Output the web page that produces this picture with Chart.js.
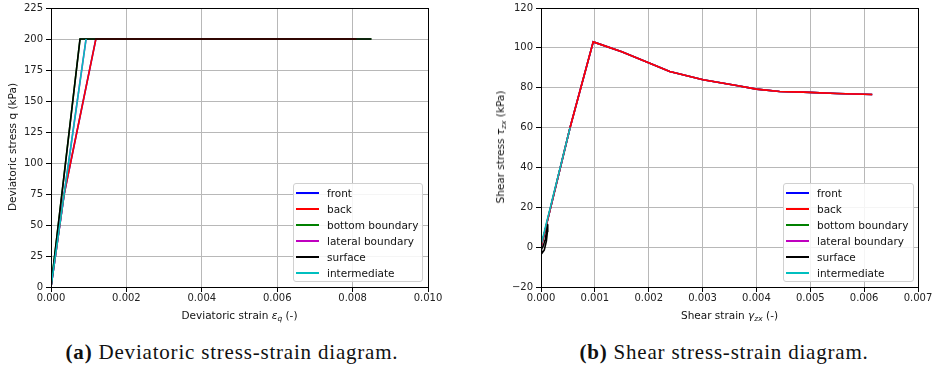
<!DOCTYPE html>
<html>
<head>
<meta charset="utf-8">
<script src="https://cdn.jsdelivr.net/npm/chart.js@4.4.1/dist/chart.umd.min.js"></script>
<style>
  html, body { margin: 0; padding: 0; background: #fff; }
  #fig { position: relative; width: 942px; height: 371px; font-family: 'DejaVu Sans', sans-serif; color: #111; }
  .panel { position: absolute; top: 0; height: 330px; }
  .axtitle { position: absolute; font-size: 10.5px; white-space: nowrap; transform: translate(-50%, -50%); }
  .axtitle.rot { transform: translate(-50%, -50%) rotate(-90deg); }
  .axtitle sub { font-size: 7.5px; vertical-align: -2px; line-height: 0; }
  .legend { position: absolute; background: rgba(255,255,255,0.85); border: 1px solid #d0d0d0; border-radius: 3px;
            box-sizing: border-box; padding-top: 1px; font-size: 10.5px; }
  .legend .row { height: 16px; line-height: 16px; position: relative; white-space: nowrap; }
  .legend .swatch { position: absolute; left: 2px; top: 7px; width: 23px; height: 2px; }
  .legend .txt { position: absolute; left: 33px; top: 0; }
  .caption { position: absolute; top: 340px; font-family: 'Liberation Serif', 'DejaVu Serif', serif; font-size: 21px;
             letter-spacing: 0.8px; white-space: nowrap; transform: translateX(-50%); color: #111; }
</style>
</head>
<body>
<div id="fig">
  <div class="panel" style="left:0;width:470px"><canvas id="chartDev"></canvas></div>
  <div class="panel" style="left:470px;width:472px"><canvas id="chartShear"></canvas></div>

  <div class="axtitle rot" style="left:12px;top:146.5px">Deviatoric stress q (kPa)</div>
  <div class="axtitle" style="left:239.5px;top:315px">Deviatoric strain <i>ε</i><sub><i>q</i></sub> (-)</div>
  <div class="axtitle rot" style="left:500px;top:146.5px">Shear stress <i>τ</i><sub><i>zx</i></sub> (kPa)</div>
  <div class="axtitle" style="left:729.5px;top:315px">Shear strain <i>γ</i><sub><i>zx</i></sub> (-)</div>

  <div class="legend" id="legendDev" style="left:293px;top:183px;width:130px;height:99px"></div>
  <div class="legend" id="legendShear" style="left:783px;top:183px;width:131px;height:99px"></div>

  <div class="caption" style="left:232px"><b>(a)</b> Deviatoric stress-strain diagram.</div>
  <div class="caption" style="left:724px"><b>(b)</b> Shear stress-strain diagram.</div>
</div>

<script>
// locations, in legend order
const locations = ['front', 'back', 'bottom boundary', 'lateral boundary', 'surface', 'intermediate'];
const locColors = ['#0000ff', '#ff0000', '#008000', '#bf00bf', '#000000', '#00bfbf'];
// stacking: lower number is drawn on top
const locOrder  = [6, 3, 5, 4, 2, 1];

// ---- deviatoric strain / stress q (kPa)
const devStrainFront = [0, 0.00035, 0.00119, 0.0081];
const devStressFront = [0, 75, 200, 200];
const devStrainBack  = [0, 0.00035, 0.00119, 0.0081];
const devStressBack  = [0, 75, 200, 200];
const devStrainBottom = [0, 0.00077, 0.0085];
const devStressBottom = [0, 200, 200];
const devStrainLateral = [0, 0.00093];
const devStressLateral = [0, 200];
const devStrainSurface = [0, 0.00077, 0.0085];
const devStressSurface = [0, 200, 200];
const devStrainInter = [0, 0.00093];
const devStressInter = [0, 200];

// ---- shear strain gamma_zx / shear stress tau_zx (kPa)
const shearStrainBack = [0, 0.00054, 0.00097, 0.0015, 0.00202, 0.00239, 0.00301, 0.00363, 0.0040, 0.00443, 0.00487, 0.00549, 0.00615];
const shearStressBack = [0, 60, 103, 98.1, 92.3, 88.1, 84, 81.1, 79.3, 78.1, 77.8, 77.1, 76.6];
const shearStrainFront = shearStrainBack.slice();
const shearStressFront = shearStressBack.slice();
const shearStrainBottom = shearStrainBack.slice();
const shearStressBottom = shearStressBack.slice();
const shearStrainLateral = shearStrainBack.slice();
const shearStressLateral = shearStressBack.slice();
const shearStrainSurface = [0, 0.00002, 0.00006, 0.0001, 0.00012, 0.000125, 0.00011, 0.00008, 0.00004, 0.00001, 0];
const shearStressSurface = [0, -3, -1.5, 3, 8, 11.5, 9, 4, 0.5, -1, 0];
const shearStrainInter = [0, 0.00054];
const shearStressInter = [1, 60];

// axis ticks
const devXTicks = [0, 0.002, 0.004, 0.006, 0.008, 0.010];
const devYTicks = [0, 25, 50, 75, 100, 125, 150, 175, 200, 225];
const shearXTicks = [0, 0.001, 0.002, 0.003, 0.004, 0.005, 0.006, 0.007];
const shearYTicks = [-20, 0, 20, 40, 60, 80, 100, 120];

const toPoints = (xs, ys) => xs.map((x, i) => ({ x, y: ys[i] }));

function makeDatasets(series) {
  return series.map((s, i) => ({
    label: locations[i],
    data: toPoints(s[0], s[1]),
    borderColor: locColors[i],
    backgroundColor: locColors[i],
    borderWidth: 1.6,
    pointRadius: 0,
    fill: false,
    tension: 0,
    order: locOrder[i]
  }));
}

// black box around the axes
const framePlugin = {
  id: 'frame',
  afterDatasetsDraw(chart) {
    const { ctx, chartArea: a } = chart;
    ctx.save();
    ctx.strokeStyle = '#000';
    ctx.lineWidth = 1;
    ctx.strokeRect(Math.round(a.left) + 0.5, Math.round(a.top) + 0.5,
                   Math.round(a.right - a.left), Math.round(a.bottom - a.top));
    ctx.restore();
  }
};

const fmtMinus = s => String(s).replace('-', '\u2212');

function axisOpts(min, max, ticks, fmt, fitSize, isX) {
  return {
    type: 'linear',
    min, max,
    afterBuildTicks: ax => { ax.ticks = ticks.map(v => ({ value: v })); },
    afterFit: ax => { if (isX) ax.height = fitSize; else ax.width = fitSize; },
    border: { display: false },
    grid: { color: '#b8b8b8', lineWidth: 1, tickColor: '#000', tickLength: 5 },
    ticks: {
      font: { family: "'DejaVu Sans', sans-serif", size: 10, lineHeight: 1 },
      color: '#222',
      padding: isX ? 1 : 3,
      maxRotation: 0,
      autoSkip: false,
      callback: v => fmtMinus(fmt(v))
    }
  };
}

function drawPanel(id, series, xs, ys, yWidth, padRight) {
  return new Chart(document.getElementById(id), {
    type: 'line',
    data: { datasets: makeDatasets(series) },
    options: {
      responsive: true,
      maintainAspectRatio: false,
      animation: false,
      layout: { padding: { top: 6, right: padRight, bottom: 0, left: 0 } },
      plugins: { legend: { display: false }, tooltip: { enabled: false } },
      scales: {
        x: axisOpts(xs.min, xs.max, xs.ticks, v => v.toFixed(3), 43, true),
        y: axisOpts(ys.min, ys.max, ys.ticks, v => v.toFixed(0), yWidth, false)
      }
    },
    plugins: [framePlugin]
  });
}

function buildLegend(id) {
  const box = document.getElementById(id);
  locations.forEach((name, i) => {
    const row = document.createElement('div');
    row.className = 'row';
    row.innerHTML = `<span class="swatch" style="background:${locColors[i]}"></span><span class="txt">${name}</span>`;
    box.appendChild(row);
  });
}

drawPanel('chartDev', [
  [devStrainFront, devStressFront],
  [devStrainBack, devStressBack],
  [devStrainBottom, devStressBottom],
  [devStrainLateral, devStressLateral],
  [devStrainSurface, devStressSurface],
  [devStrainInter, devStressInter]
], { min: 0, max: 0.010, ticks: devXTicks }, { min: 0, max: 225, ticks: devYTicks }, 51, 42);

drawPanel('chartShear', [
  [shearStrainFront, shearStressFront],
  [shearStrainBack, shearStressBack],
  [shearStrainBottom, shearStressBottom],
  [shearStrainLateral, shearStressLateral],
  [shearStrainSurface, shearStressSurface],
  [shearStrainInter, shearStressInter]
], { min: 0, max: 0.007, ticks: shearXTicks }, { min: -20, max: 120, ticks: shearYTicks }, 71, 24);

buildLegend('legendDev');
buildLegend('legendShear');
</script>
</body>
</html>
